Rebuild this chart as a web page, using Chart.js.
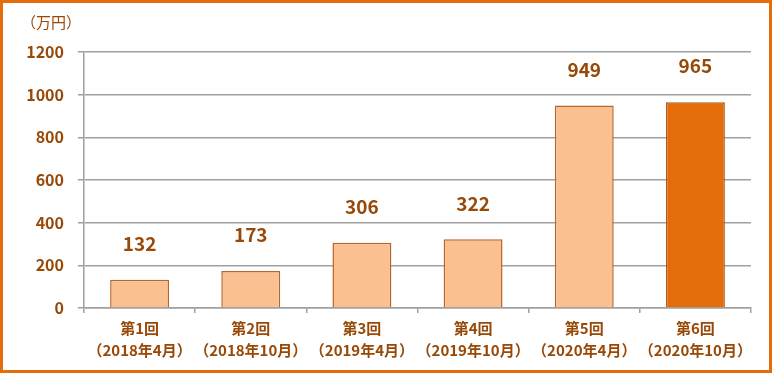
<!DOCTYPE html>
<html>
<head>
<meta charset="utf-8">
<script src="https://cdn.jsdelivr.net/npm/chart.js@4"></script>
<style>
  html, body { margin: 0; padding: 0; background: #fff; }
  #wrap { position: relative; width: 772px; height: 373px; }
</style>
</head>
<body>
<div id="wrap"><canvas id="chartKai" width="772" height="373"></canvas></div>
<script>
const categories = [
  ['第1回', '（2018年4月）'],
  ['第2回', '（2018年10月）'],
  ['第3回', '（2019年4月）'],
  ['第4回', '（2019年10月）'],
  ['第5回', '（2020年4月）'],
  ['第6回', '（2020年10月）']
];
const amounts = [132, 173, 306, 322, 949, 965];
const yTicks = [0, 200, 400, 600, 800, 1000, 1200];
const unitLabel = '（万円）';

const brown = '#984807';
const font = '"Noto Sans CJK JP", "Noto Sans", sans-serif';

const barColors = amounts.map((v, i) => i === amounts.length - 1 ? '#E46C0A' : '#FAC090');
const barBorders = amounts.map((v, i) => i === amounts.length - 1 ? '#B45A0E' : '#B7652A');

// white background, orange frame, unit text
const frame = {
  id: 'frame',
  beforeDraw(chart) {
    const c = chart.ctx;
    c.save();
    c.fillStyle = '#fff';
    c.fillRect(0, 0, chart.width, chart.height);
    c.restore();
  },
  afterDraw(chart) {
    const c = chart.ctx;
    c.save();
    c.strokeStyle = '#E46C0A';
    c.lineWidth = 3;
    c.strokeRect(1.5, 1.5, chart.width - 3, chart.height - 3);
    c.fillStyle = brown;
    c.font = '15px ' + font;
    c.textBaseline = 'middle';
    c.textAlign = 'left';
    c.fillText(unitLabel, 21, 22);
    c.restore();
  }
};

// value labels above bars
const valueLabels = {
  id: 'valueLabels',
  afterDatasetsDraw(chart) {
    const c = chart.ctx;
    const meta = chart.getDatasetMeta(0);
    c.save();
    c.fillStyle = brown;
    c.font = 'bold 19px ' + font;
    c.textAlign = 'center';
    c.textBaseline = 'middle';
    meta.data.forEach((bar, i) => {
      c.fillText(String(amounts[i]), bar.x, bar.y - 36);
    });
    c.restore();
  }
};

const ctx = document.getElementById('chartKai');

new Chart(ctx, {
  type: 'bar',
  data: {
    labels: categories,
    datasets: [{
      data: amounts,
      backgroundColor: barColors,
      borderColor: barBorders,
      borderWidth: 1.5,
      categoryPercentage: 1,
      barPercentage: 0.53
    }]
  },
  options: {
    responsive: false,
    animation: false,
    layout: { padding: { top: 52, right: 21, bottom: 0, left: 0 } },
    plugins: {
      legend: { display: false },
      tooltip: { enabled: false }
    },
    scales: {
      x: {
        afterFit(scale) { scale.height = 65; },
        grid: {
          drawOnChartArea: false,
          drawTicks: true,
          tickLength: 5,
          color: '#A0A0A0',
          lineWidth: 1.5
        },
        border: { display: true, color: '#A0A0A0', width: 1.5 },
        ticks: {
          color: brown,
          font: { family: font, size: 15, weight: 'bold', lineHeight: 1.5 },
          padding: 4,
          maxRotation: 0,
          autoSkip: false
        }
      },
      y: {
        min: 0,
        max: 1200,
        afterFit(scale) { scale.width = 84; },
        afterBuildTicks(scale) { scale.ticks = yTicks.map(v => ({ value: v })); },
        grid: {
          color: '#A0A0A0',
          lineWidth: 1.5,
          tickLength: 6
        },
        border: { display: true, color: '#A0A0A0', width: 1.5 },
        ticks: {
          color: brown,
          font: { family: font, size: 16, weight: 'bold' },
          padding: 14,
          callback: v => String(v)
        }
      }
    }
  },
  plugins: [frame, valueLabels]
});
</script>
</body>
</html>
